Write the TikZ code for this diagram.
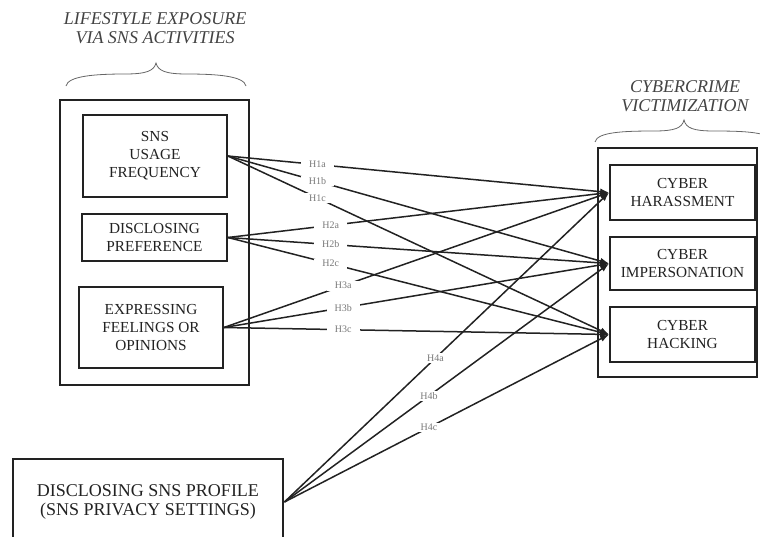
\documentclass[tikz,border=0pt]{standalone}
\usepackage{fontspec}
\setmainfont{Liberation Serif}
\usetikzlibrary{arrows.meta}
\definecolor{ink}{HTML}{222222}
\definecolor{labgray}{HTML}{7A7A7A}
\begin{document}
\begin{tikzpicture}[x=1pt,y=-1pt,
  box/.style={draw=ink, line width=1.7pt, align=center, text=ink, font=\fontsize{15.3}{18}\selectfont, inner sep=0pt},
  frame/.style={draw=ink, line width=2.8pt, inner sep=0pt},
  conn/.style={draw=ink, line width=1.5pt, -{Latex[length=9pt,width=6.5pt]}},
  lab/.style={fill=white, text=labgray, font=\fontsize{10}{10}\selectfont, inner xsep=8pt, inner ysep=1.5pt},
  title/.style={font=\itshape\fontsize{18}{18.5}\selectfont, text=ink!85, align=center},
  bracestyle/.style={draw=gray!80!black, line width=0.8pt}]
\useasboundingbox (0,0) rectangle (760,536);
\clip (0,0) rectangle (760,536);

% titles
\node[title] (t1) at (155,28) {LIFESTYLE EXPOSURE\\VIA SNS ACTIVITIES};
\node[title] (t2) at (685,96) {CYBERCRIME\\VICTIMIZATION};

% braces
\draw[bracestyle] (66,86) .. controls (68,76) and (95,74) .. (125,74)
  .. controls (146,74) and (154,71) .. (156,63)
  .. controls (158,71) and (166,74) .. (187,74)
  .. controls (217,74) and (244,76) .. (246,86);
\draw[bracestyle] (595,142) .. controls (597,132) and (624,131) .. (654,131)
  .. controls (675,131) and (682,128) .. (684,120)
  .. controls (686,128) and (693,131) .. (714,131)
  .. controls (744,131) and (771,132) .. (773,142);

% frames
\node[frame, minimum width=189pt, minimum height=285pt] (lframe) at (154.5,242.5) {};
\node[frame, line width=1.7pt, minimum width=159pt, minimum height=229pt] (rframe) at (677.5,262.5) {};

% left boxes
\node[box, minimum width=144pt, minimum height=82pt] (sns) at (155,156) {SNS\\USAGE\\FREQUENCY};
\node[box, minimum width=145pt, minimum height=47pt] (disc) at (154.5,237.5) {DISCLOSING\\PREFERENCE};
\node[box, minimum width=144pt, minimum height=81pt] (expr) at (151,327.5) {EXPRESSING\\FEELINGS OR\\OPINIONS};

% right boxes
\node[box, minimum width=145pt, minimum height=55pt] (har) at (682.5,192.5) {CYBER\\HARASSMENT};
\node[box, minimum width=145pt, minimum height=53pt] (imp) at (682.5,263.5) {CYBER\\IMPERSONATION};
\node[box, minimum width=145pt, minimum height=55pt] (hack) at (682.5,334.5) {CYBER\\HACKING};

% bottom box
\node[box, line width=2.8pt, font=\fontsize{18}{18.5}\selectfont, minimum width=270pt, minimum height=86pt] (prof) at (148,502) {DISCLOSING SNS PROFILE\\(SNS PRIVACY SETTINGS)};

% connectors
\draw[conn] (sns.east) -- (har.west) node[lab, pos=0.235] (h1a) {H1a};
\draw[conn] (sns.east) -- (imp.west) node[lab, pos=0.235] (h1b) {H1b};
\draw[conn] (sns.east) -- (hack.west) node[lab, pos=0.235] (h1c) {H1c};
\draw[conn] (disc.east) -- (har.west) node[lab, pos=0.27] (h2a) {H2a};
\draw[conn] (disc.east) -- (imp.west) node[lab, pos=0.27] (h2b) {H2b};
\draw[conn] (disc.east) -- (hack.west) node[lab, pos=0.27] (h2c) {H2c};
\draw[conn] (expr.east) -- (har.west) node[lab, pos=0.31] (h3a) {H3a};
\draw[conn] (expr.east) -- (imp.west) node[lab, pos=0.31] (h3b) {H3b};
\draw[conn] (expr.east) -- (hack.west) node[lab, pos=0.31] (h3c) {H3c};
\draw[conn] (prof.east) -- (har.west) node[lab, pos=0.465] (h4a) {H4a};
\draw[conn] (prof.east) -- (imp.west) node[lab, pos=0.445] (h4b) {H4b};
\draw[conn] (prof.east) -- (hack.west) node[lab, pos=0.445] (h4c) {H4c};
\end{tikzpicture}
\end{document}
